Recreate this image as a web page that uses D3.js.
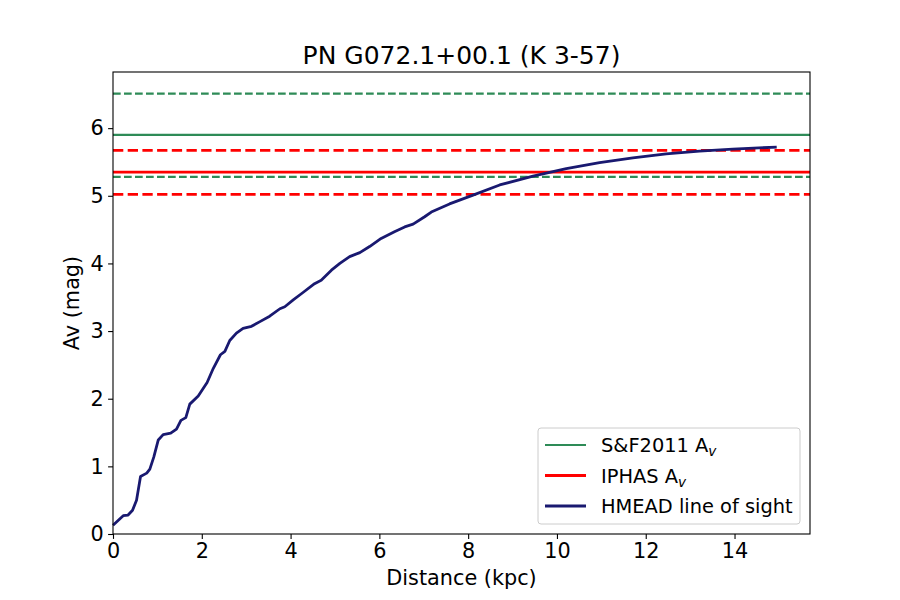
<!DOCTYPE html>
<html>
<head>
<meta charset="utf-8">
<script src="https://cdn.jsdelivr.net/npm/d3@7"></script>
<style>
body { margin: 0; background: #fff; }
text { font-family: "DejaVu Sans", sans-serif; }
</style>
</head>
<body>
<svg id="chart" width="900" height="600"></svg>
<script>
// line of sight extinction
var dist = [0.0, 0.23, 0.34, 0.44, 0.53, 0.62, 0.76, 0.83, 0.92, 1.02, 1.13, 1.30, 1.43, 1.53, 1.64, 1.73,
            1.92, 2.12, 2.26, 2.42, 2.52, 2.63, 2.78, 2.93, 3.12, 3.31, 3.53, 3.76, 3.87, 4.06, 4.28,
            4.54, 4.69, 4.92, 5.11, 5.33, 5.56, 5.78, 6.04, 6.34, 6.57, 6.76, 7.02, 7.17, 7.58, 8.11,
            8.71, 9.46, 10.21, 10.96, 11.71, 12.46, 13.21, 13.96, 14.95];
var av   = [0.13, 0.27, 0.28, 0.35, 0.50, 0.85, 0.90, 0.96, 1.14, 1.39, 1.47, 1.49, 1.55, 1.68, 1.72, 1.92,
            2.04, 2.24, 2.45, 2.65, 2.70, 2.86, 2.97, 3.04, 3.07, 3.14, 3.22, 3.33, 3.36, 3.46, 3.57,
            3.70, 3.75, 3.90, 4.00, 4.10, 4.16, 4.25, 4.37, 4.47, 4.54, 4.58, 4.69, 4.76, 4.88, 5.01,
            5.16, 5.29, 5.40, 5.49, 5.56, 5.62, 5.66, 5.69, 5.72];

// S&F2011 value with its error
var sf2011 = [5.90, 5.28, 6.51];
// IPHAS value with its error
var iphas = [5.35, 5.02, 5.67];

var xTicks = [0, 2, 4, 6, 8, 10, 12, 14];
var yTicks = [0, 1, 2, 3, 4, 5, 6];
var legendNames = ["S&F2011 A", "IPHAS A", "HMEAD line of sight"];

var m = {left: 113, right: 90, top: 72, bottom: 66};
var W = 900, H = 600;
var svg = d3.select("#chart");

var x = d3.scaleLinear().domain([0, 15.7]).range([m.left, W - m.right]);
var y = d3.scaleLinear().domain([0, 6.83]).range([H - m.bottom, m.top]);

var g = svg.append("g");

// S&F lines
g.append("line")
  .attr("x1", x(0)).attr("x2", x(15.7)).attr("y1", y(sf2011[0])).attr("y2", y(sf2011[0]))
  .style("stroke", "seagreen").style("stroke-width", 2.08);
sf2011.slice(1).forEach(function(v){
  g.append("line")
    .attr("x1", x(0)).attr("x2", x(15.7)).attr("y1", y(v)).attr("y2", y(v))
    .style("stroke", "seagreen").style("stroke-width", 2.08)
    .style("stroke-dasharray", "7.7,3.3");
});
// IPHAS lines
g.append("line")
  .attr("x1", x(0)).attr("x2", x(15.7)).attr("y1", y(iphas[0])).attr("y2", y(iphas[0]))
  .style("stroke", "red").style("stroke-width", 2.78);
iphas.slice(1).forEach(function(v){
  g.append("line")
    .attr("x1", x(0)).attr("x2", x(15.7)).attr("y1", y(v)).attr("y2", y(v))
    .style("stroke", "red").style("stroke-width", 2.78)
    .style("stroke-dasharray", "10.3,4.4");
});

var line = d3.line().x(function(d){return x(d[0]);}).y(function(d){return y(d[1]);});
g.append("path")
  .datum(dist.map(function(d,i){return [d, av[i]];}))
  .attr("d", line)
  .attr("fill", "none")
  .style("stroke", "midnightblue")
  .style("stroke-width", 2.78)
  .style("stroke-linejoin", "round");

// frame
svg.append("rect")
  .attr("x", m.left).attr("y", m.top)
  .attr("width", W - m.left - m.right).attr("height", H - m.top - m.bottom)
  .attr("fill", "none").attr("stroke", "#000").attr("stroke-width", 1.1);

var xAxis = svg.append("g").attr("transform", "translate(0," + (H - m.bottom) + ")")
  .call(d3.axisBottom(x).tickValues(xTicks).tickSize(4.9).tickPadding(4.5).tickFormat(d3.format("d")));
var yAxis = svg.append("g").attr("transform", "translate(" + m.left + ",0)")
  .call(d3.axisLeft(y).tickValues(yTicks).tickSize(4.9).tickPadding(4.5).tickFormat(d3.format("d")));
[xAxis, yAxis].forEach(function(a){
  a.select(".domain").remove();
  a.selectAll("line").attr("stroke-width", 1.1);
  a.selectAll("text").style("font-size", "20.8px").attr("fill", "#000");
});

svg.append("text").attr("x", (m.left + W - m.right) / 2).attr("y", 64)
  .attr("text-anchor", "middle").style("font-size", "25px")
  .text("PN G072.1+00.1 (K 3-57)");
svg.append("text").attr("x", (m.left + W - m.right) / 2).attr("y", 585)
  .attr("text-anchor", "middle").style("font-size", "20.8px")
  .text("Distance (kpc)");
svg.append("text").attr("transform", "translate(79," + ((m.top + H - m.bottom) / 2) + ") rotate(-90)")
  .attr("text-anchor", "middle").style("font-size", "20.8px")
  .text("Av (mag)");

// legend
var leg = svg.append("g").attr("transform", "translate(538,428)");
leg.append("rect").attr("width", 262).attr("height", 96).attr("rx", 3)
  .attr("fill", "#fff").attr("fill-opacity", 0.8).attr("stroke", "#ccc");
var legCols = ["seagreen", "red", "midnightblue"];
var legW = [2.08, 2.78, 2.78];
legendNames.forEach(function(n, i){
  var yy = 17 + i * 30.5;
  leg.append("line").attr("x1", 7).attr("x2", 48).attr("y1", yy).attr("y2", yy)
    .style("stroke", legCols[i]).style("stroke-width", legW[i]);
  var t = leg.append("text").attr("x", 63).attr("y", yy + 7).style("font-size", "19.4px").text(n);
  if (i < 2) t.append("tspan").attr("dy", 4).style("font-size", "13.6px").style("font-style", "italic").text("v");
});
</script>
</body>
</html>
